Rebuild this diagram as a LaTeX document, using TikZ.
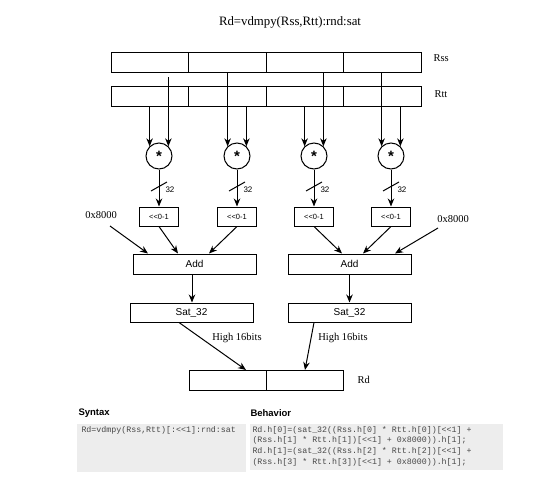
\documentclass[tikz,border=0pt]{standalone}
\usepackage{fontspec}
\setmainfont{Liberation Serif}
\setsansfont{Liberation Sans}
\setmonofont{Liberation Mono}
\usetikzlibrary{arrows.meta,calc}
\begin{document}
\begin{tikzpicture}[x=1pt,y=-1pt,
  line width=1pt,
  reg/.style={draw,minimum width=77.5pt,minimum height=20pt,inner sep=0pt,outer sep=0pt},
  mul/.style={draw,circle,minimum size=26pt,inner sep=0pt,font=\sffamily\bfseries\fontsize{15}{15}\selectfont},
  shf/.style={draw,minimum width=39pt,minimum height=19pt,inner sep=0pt,font=\sffamily\fontsize{7.5}{8}\selectfont},
  wide/.style={draw,minimum width=123pt,minimum height=20pt,inner sep=0pt,font=\sffamily\fontsize{10}{12}\selectfont},
  lbl/.style={font=\fontsize{10.5}{12}\selectfont,inner sep=0pt},
  wlbl/.style={font=\sffamily\fontsize{8}{9}\selectfont,inner sep=0pt},
  arr/.style={-{Stealth[length=8pt,width=6.5pt]}},
  codebox/.style={fill=black!7,draw=none},
  code/.style={font=\ttfamily\fontsize{8.3}{10.7}\selectfont,text=black!72,inner sep=0pt,anchor=north west,align=left},
  hdr/.style={font=\sffamily\bfseries\fontsize{9.5}{11}\selectfont,inner sep=0pt,anchor=west}
]
\useasboundingbox (0,0) rectangle (549,485);

% title
\node[font=\fontsize{12.8}{14}\selectfont] (title) at (290,22) {Rd=vdmpy(Rss,Rtt):rnd:sat};

% registers
\foreach \i/\x in {0/149.75,1/227.25,2/304.75,3/382.25}{
  \node[reg] (rss\i) at (\x,62) {};
  \node[reg] (rtt\i) at (\x,96) {};
}
\node[lbl,anchor=west] (rsslbl) at (433,58) {Rss};
\node[lbl,anchor=west] (rttlbl) at (434,94) {Rtt};

% multipliers
\foreach \i/\x in {0/159,1/237,2/314,3/391}{
  \node[mul] (m\i) at (\x,156) {\raisebox{-0.3em}{*}};
  \node[shf] (s\i) at (\x,216.5) {<\kern0pt<0-1};
}

% inputs to multipliers
\draw[arr] (m0.134 |- rtt0.south) -- (m0.134);
\draw[arr] ([yshift=-5pt]m0.46 |- rss0.south) -- (m0.46);
\draw[arr] (m1.134 |- rss1.south) -- (m1.134);
\draw[arr] (m1.46 |- rtt1.south) -- (m1.46);
\draw[arr] (m2.134 |- rtt2.south) -- (m2.134);
\draw[arr] (m2.46 |- rss2.south) -- (m2.46);
\draw[arr] (m3.134 |- rss3.south) -- (m3.134);
\draw[arr] (m3.46 |- rtt3.south) -- (m3.46);

% multiplier to shift with width marker
\foreach \i in {0,1,2,3}{
  \draw[arr] (m\i.south) -- (s\i.north);
  \draw ($(m\i.south)+(-8,21.5)$) -- ($(m\i.south)+(8,12.5)$);
  \node[wlbl,anchor=west] (w\i) at ($(m\i.south)+(6,20)$) {32};
}

% adders
\node[wide] (add0) at (194.5,264) {Add};
\node[wide] (add1) at (349.5,264) {Add};
\node[wide,minimum height=19pt] (sat0) at (191.5,312.5) {Sat\_32};
\node[wide,minimum height=19pt] (sat1) at (349.5,312.5) {Sat\_32};

% constants
\node[lbl] (k0) at (101,215) {0x8000};
\node[lbl] (k1) at (453,219) {0x8000};
\draw[arr] ($(k0.center)+(9,11)$) -- ([xshift=-46.5pt]add0.north);
\draw[arr] ($(k1.center)+(-15,9)$) -- ([xshift=45.5pt]add1.north);

% shifts to adders
\draw[arr] (s0.south) -- ([xshift=-16.5pt]add0.north);
\draw[arr] (s1.south) -- ([xshift=14.5pt]add0.north);
\draw[arr] (s2.south) -- ([xshift=-7.5pt]add1.north);
\draw[arr] (s3.south) -- ([xshift=13.5pt]add1.north);

% adders to saturation
\draw[arr] ([xshift=-2.5pt]add0.south) -- ([xshift=-2.5pt]add0.south |- sat0.north);
\draw[arr] (add1.south) -- (add1.south |- sat1.north);

% result register
\node[reg,minimum width=77pt] (rd0) at (227.5,380) {};
\node[reg,minimum width=77pt] (rd1) at (304.5,380) {};
\node[lbl,anchor=west] (rdlbl) at (357,380) {Rd};

\draw[arr] ([xshift=-12.5pt]sat0.south) -- ([xshift=18.5pt]rd0.north);
\draw[arr] ([xshift=-35.5pt]sat1.south) -- ([xshift=0.5pt]rd1.north);
\node[lbl] (h0) at (237,338) {High 16bits};
\node[lbl] (h1) at (343,338) {High 16bits};

% syntax / behavior table
\node[hdr] (syn) at (78,413) {Syntax};
\node[hdr] (beh) at (250,413) {Behavior};
\fill[codebox] (77,424) rectangle (246,472);
\fill[codebox] (250,424) rectangle (503,470);
\node[code] (c0) at (81,425.5) {Rd=vdmpy(Rss,Rtt)[:<<1]:rnd:sat};
\node[code] (c1) at (252,425.5) {Rd.h[0]=(sat\_32((Rss.h[0] * Rtt.h[0])[<<1] +\\
(Rss.h[1] * Rtt.h[1])[<<1] + 0x8000)).h[1];\\
Rd.h[1]=(sat\_32((Rss.h[2] * Rtt.h[2])[<<1] +\\
(Rss.h[3] * Rtt.h[3])[<<1] + 0x8000)).h[1];};
\end{tikzpicture}
\end{document}
